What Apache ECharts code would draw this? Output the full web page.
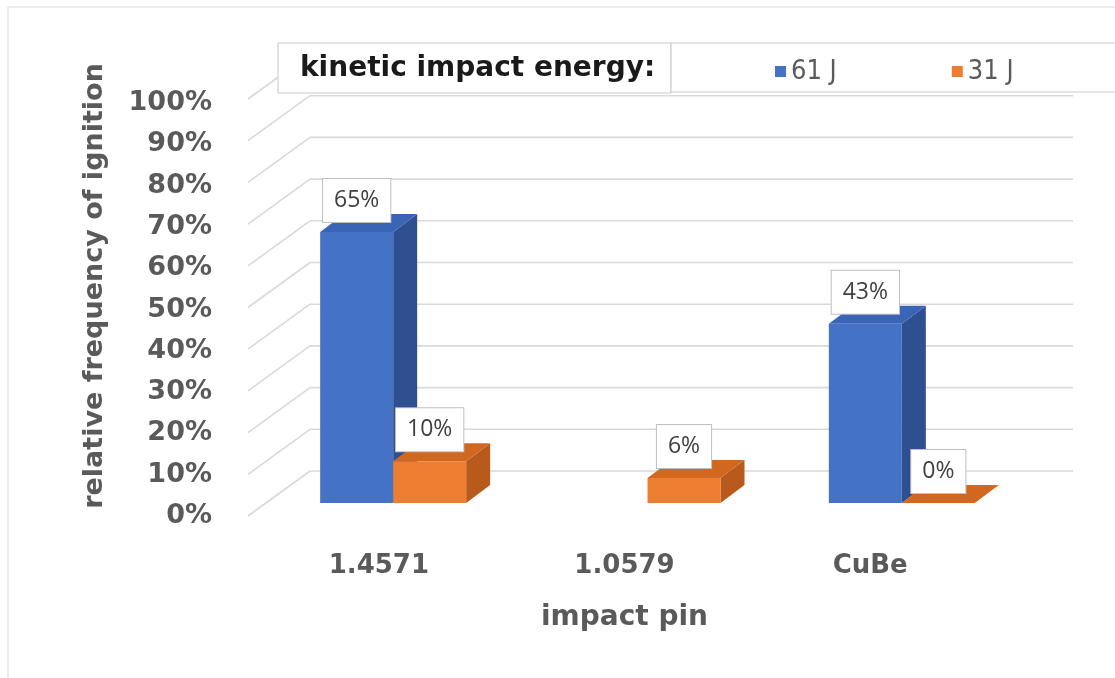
<!DOCTYPE html>
<html>
<head>
<meta charset="utf-8">
<script src="https://cdn.jsdelivr.net/npm/echarts@6/dist/echarts.min.js"></script>
<style>
  html, body { margin: 0; padding: 0; background: #fff; }
  #chart { width: 1115px; height: 678px; }
</style>
</head>
<body>
<div id="chart"></div>
<script>
// ---- data ----
const categories = ['1.4571', '1.0579', 'CuBe'];
const energy61 = [65, null, 43];
const energy31 = [10, 6, 0];
const seriesNames = ['61 J', '31 J'];
const yTicks = [0, 10, 20, 30, 40, 50, 60, 70, 80, 90, 100];
const legendTitle = 'kinetic impact energy:';
const xTitle = 'impact pin';
const yTitle = 'relative frequency of ignition';

// ---- look ----
const FONT = '"DejaVu Sans", sans-serif';
const FONT_NARROW = '"DejaVu Sans Condensed", "DejaVu Sans", sans-serif';
const LABEL_FONT = '"Open Sans", "Noto Sans", sans-serif';
const TEXT_GRAY = '#5a5a5a';
const BACK = [44, -32];   // offset from the bars' front plane to the back wall
const FRONT = [-18, 13];  // offset from the bars' front plane to the front edge of the side wall
const BAR_D = [24, -18];  // depth of every bar
const BAR_FRAC = 0.287;   // bar width as a share of the category band

const palette = {
  '61 J': { front: '#4472C4', top: '#3a64b6', side: '#2e4f90' },
  '31 J': { front: '#ED7D31', top: '#d2681f', side: '#b75a1b' }
};

// back-wall and side-wall gridlines
function renderGridLines(params, api) {
  const cs = params.coordSys;
  const y = api.coord([0, api.value(1)])[1];
  const st = { stroke: '#d9d9d9', lineWidth: 1.6, fill: null };
  return {
    type: 'group',
    children: [
      { type: 'line', shape: { x1: cs.x + BACK[0], y1: y + BACK[1], x2: cs.x + cs.width + BACK[0], y2: y + BACK[1] }, style: st },
      { type: 'line', shape: { x1: cs.x + FRONT[0], y1: y + FRONT[1], x2: cs.x + BACK[0], y2: y + BACK[1] }, style: st }
    ]
  };
}

// 3D column: front face, top face, right side face and a boxed value label
function makeBarRenderer(slot, colors) {
  return function (params, api) {
    const v = api.value(1);
    if (v == null || isNaN(v)) return null;
    const cat = api.value(0);
    const base = api.coord([cat, 0]);
    const top = api.coord([cat, v]);
    const band = api.size([1, 0])[0];
    const w = band * BAR_FRAC;
    const x0 = slot === 0 ? base[0] - w : base[0];
    const x1 = x0 + w;
    const yb = base[1], yt = top[1];
    const dx = BAR_D[0], dy = BAR_D[1];
    return {
      type: 'group',
      children: [
        { type: 'polygon', shape: { points: [[x1, yb], [x1, yt], [x1 + dx, yt + dy], [x1 + dx, yb + dy]] }, style: { fill: colors.side } },
        { type: 'polygon', shape: { points: [[x0, yt], [x1, yt], [x1 + dx, yt + dy], [x0 + dx, yt + dy]] }, style: { fill: colors.top } },
        { type: 'rect', shape: { x: x0, y: yt, width: w, height: yb - yt }, style: { fill: colors.front } },
        {
          type: 'text', x: (x0 + x1) / 2, y: yt - 10,
          style: {
            text: v + '%', align: 'center', verticalAlign: 'bottom',
            fontFamily: LABEL_FONT, fontSize: 23, lineHeight: 23, fill: '#404040',
            backgroundColor: '#fff', borderColor: '#bfbfbf', borderWidth: 1, padding: [10, 11]
          }
        }
      ]
    };
  };
}

const toData = arr => arr.map((v, i) => [i, v == null ? '-' : v]);

const chart = echarts.init(document.getElementById('chart'), null, { renderer: 'canvas' });
chart.setOption({
  animation: false,
  backgroundColor: '#fff',
  grid: [
    { left: 266, right: 86, top: 86, bottom: 175 },          // bars' front plane
    { left: 256, right: 122, top: 103, bottom: 162 }          // front edge, carries the axis labels
  ],
  xAxis: [
    { type: 'category', data: categories, gridIndex: 0, show: false },
    {
      type: 'category', data: categories, gridIndex: 1,
      axisLine: { show: false }, axisTick: { show: false },
      axisLabel: { margin: 37, fontFamily: FONT, fontWeight: 'bold', fontSize: 26, color: TEXT_GRAY },
      name: xTitle, nameLocation: 'middle', nameGap: 88,
      nameTextStyle: { fontFamily: FONT, fontWeight: 'bold', fontSize: 28, color: TEXT_GRAY }
    }
  ],
  yAxis: [
    { type: 'value', min: 0, max: 100, interval: 10, gridIndex: 0, show: false },
    {
      type: 'value', min: 0, max: 100, interval: 10, gridIndex: 1,
      axisLine: { show: false }, axisTick: { show: false }, splitLine: { show: false },
      axisLabel: { margin: 44, formatter: '{value}%', fontFamily: FONT, fontWeight: 'bold', fontSize: 27, color: TEXT_GRAY }
    }
  ],
  legend: {
    left: 770, top: 53, icon: 'rect', itemWidth: 11, itemHeight: 11, itemGap: 115,
    textStyle: { fontFamily: FONT_NARROW, fontSize: 27, color: TEXT_GRAY },
    data: seriesNames.map(n => ({ name: n, itemStyle: { color: palette[n].front } }))
  },
  graphic: [
    { type: 'rect', shape: { x: 8, y: 7, width: 1200, height: 800 }, style: { fill: null, stroke: '#d9d9d9', lineWidth: 1 }, z: 0 },
    { type: 'rect', shape: { x: 278, y: 43, width: 393, height: 50 }, style: { fill: '#fff', stroke: '#c8c8c8', lineWidth: 1 }, z: 3 },
    { type: 'rect', shape: { x: 671, y: 43, width: 500, height: 49 }, style: { fill: '#fff', stroke: '#c8c8c8', lineWidth: 1 }, z: 3 },
    {
      type: 'text', x: 300, y: 69, z: 5,
      style: { text: legendTitle, verticalAlign: 'middle', fontFamily: FONT, fontWeight: 'bold', fontSize: 28, fill: '#1a1a1a' }
    },
    {
      type: 'text', x: 95, y: 286, rotation: Math.PI / 2, z: 5,
      style: { text: yTitle, align: 'center', verticalAlign: 'middle', fontFamily: FONT, fontWeight: 'bold', fontSize: 27, fill: TEXT_GRAY }
    }
  ],
  series: [
    {
      type: 'custom', name: 'grid', xAxisIndex: 0, yAxisIndex: 0, z: 1, silent: true,
      renderItem: renderGridLines, data: yTicks.map(v => [0, v])
    },
    {
      type: 'custom', name: seriesNames[0], xAxisIndex: 0, yAxisIndex: 0, z: 2,
      itemStyle: { color: palette[seriesNames[0]].front },
      renderItem: makeBarRenderer(0, palette[seriesNames[0]]), data: toData(energy61)
    },
    {
      type: 'custom', name: seriesNames[1], xAxisIndex: 0, yAxisIndex: 0, z: 2,
      itemStyle: { color: palette[seriesNames[1]].front },
      renderItem: makeBarRenderer(1, palette[seriesNames[1]]), data: toData(energy31)
    }
  ]
});
</script>
</body>
</html>
